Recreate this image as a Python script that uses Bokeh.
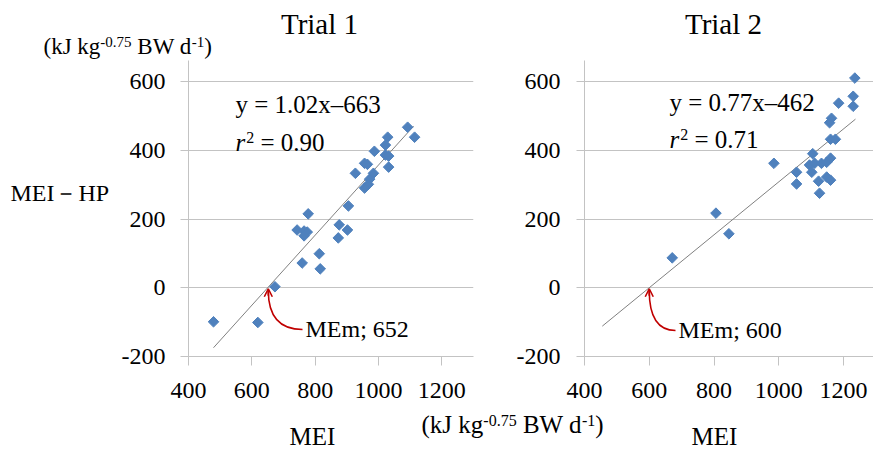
import math
import numpy as np
from bokeh.plotting import figure
from bokeh.models import Label, Range1d, FixedTicker, Arrow, OpenHead
from bokeh.layouts import row, column
from bokeh.embed import file_html
from bokeh.resources import INLINE

# ---------------- data ----------------
x_ticks = [400, 600, 800, 1000, 1200]
y_ticks = [-200, 0, 200, 400, 600]

t1_title = "Trial 1"
t1_mei = [1092, 1114, 1029, 1022, 987, 1022, 1032, 1032, 956, 965, 927, 984, 972, 968, 956,
          905, 778, 743, 765, 775, 765, 876, 902, 873, 813, 759, 816, 673, 619, 479]
t1_mei_hp = [467, 438, 438, 415, 397, 386, 383, 351, 362, 359, 333, 333, 316, 301, 290,
             238, 215, 168, 165, 162, 151, 183, 168, 145, 99, 72, 55, 3, -101, -99]
t1_slope = 1.02
t1_intercept = -663
t1_r2 = 0.90
t1_fit_x = [479, 1111]
t1_mem = 652

t2_title = "Trial 2"
t2_mei = [1235, 1230, 1230, 1185, 1163, 1157, 1160, 1175, 985, 1105, 1095, 1111, 1132, 1148,
          1160, 1102, 1055, 1055, 1123, 1148, 1160, 1126, 806, 846, 671]
t2_mei_hp = [610, 557, 528, 537, 493, 480, 432, 432, 362, 390, 357, 362, 362, 365,
             377, 336, 336, 302, 310, 322, 313, 275, 217, 157, 87]
t2_slope = 0.77
t2_intercept = -462
t2_r2 = 0.71
t2_fit_x = [455, 1237]
t2_mem = 600

x_label = "MEI"
y_label = "MEI－HP"
unit_parts = ["(kJ kg", "-0.75", " BW d", "-1", ")"]   # normal / superscript alternating

# ---------------- styling / layout ----------------
FONT = "Liberation Serif"
GRID = "#c3c3c3"
BLUE = "#4F81BD"
RED = "#c00000"
TREND = "#808080"

W, H = 873, 449
TOP_H = 60            # top strip (titles, unit)
MID_H = 352           # plot row
BOT_H = H - TOP_H - MID_H
LEFT_W = 112          # strip with y label
BOUND = 500           # split between the two panels
FRAME_TOP, FRAME_BOTTOM = TOP_H, 356
Y0 = -200
Y1 = Y0 + (FRAME_BOTTOM - FRAME_TOP) * 800 / 275.0

ADV = {' ': 250, '(': 333, ')': 333, 'k': 500, 'J': 389, 'g': 500, 'B': 667, 'W': 944,
       'd': 500, '-': 333, '0': 500, '.': 250, '7': 500, '5': 500, '1': 500, '=': 564,
       '2': 500, '9': 500, 'r': 389}


def tw(s, size):
    return sum(ADV.get(c, 500) for c in s) / 1000.0 * size


class Geo:
    """maps picture pixels to the data coordinates of one figure"""
    def __init__(self, fl, fr, ft, fb, x0, x1, y0, y1):
        self.fl, self.fr, self.ft, self.fb = fl, fr, ft, fb
        self.x0, self.x1, self.y0, self.y1 = x0, x1, y0, y1

    def dx(self, px):
        return self.x0 + (px - self.fl) * (self.x1 - self.x0) / (self.fr - self.fl)

    def dy(self, py):
        return self.y0 + (self.fb - py) * (self.y1 - self.y0) / (self.fb - self.ft)

    def px(self, x):
        return self.fl + (x - self.x0) * (self.fr - self.fl) / (self.x1 - self.x0)

    def py(self, y):
        return self.fb - (y - self.y0) * (self.fb - self.ft) / (self.y1 - self.y0)


def strip(left, top, width, height):
    s = figure(width=width, height=height, x_range=Range1d(0, width),
               y_range=Range1d(height, 0), output_backend="svg", toolbar_location=None,
               min_border=0, x_axis_location=None, y_axis_location=None, title=None)
    s.outline_line_color = None
    s.background_fill_color = "white"
    s.border_fill_color = "white"
    s.xgrid.visible = False
    s.ygrid.visible = False
    return s, Geo(left, left + width, top, top + height, 0, width, height, 0)


def make_panel(left, width, fl, fr, x1, label_standoff):
    geo = Geo(fl, fr, FRAME_TOP, FRAME_BOTTOM, 400, x1, Y0, Y1)
    p = figure(width=width, height=MID_H,
               x_range=Range1d(400, x1), y_range=Range1d(Y0, Y1),
               output_backend="svg", toolbar_location=None, title=None,
               min_border_left=fl - left, min_border_right=left + width - fr,
               min_border_top=0, min_border_bottom=TOP_H + MID_H - FRAME_BOTTOM)
    p.outline_line_color = None
    p.background_fill_color = "white"
    p.border_fill_color = "white"
    p.xaxis.ticker = FixedTicker(ticks=x_ticks)
    p.yaxis.ticker = FixedTicker(ticks=y_ticks)
    p.yaxis.major_label_overrides = {t: str(t) for t in y_ticks}
    p.xgrid.grid_line_color = None
    p.ygrid.grid_line_color = GRID
    for ax in (p.xaxis[0], p.yaxis[0]):
        ax.axis_line_color = GRID
        ax.major_tick_line_color = GRID
        ax.minor_tick_line_color = None
        ax.major_tick_in = 0
        ax.major_label_text_font = FONT
        ax.major_label_text_font_size = "24px"
        ax.major_label_text_color = "black"
    p.xaxis.major_tick_out = 9
    p.yaxis.major_tick_out = 8
    p.xaxis.major_label_standoff = 17
    p.yaxis.major_label_standoff = label_standoff
    return p, geo


def add_text(p, geo, px, baseline, text, size, align="left", style="normal", color="black"):
    """px, baseline: picture pixels of the text start (or centre) and its baseline"""
    stripped = text.lstrip(" ")
    if align == "left":
        px += tw(text[:len(text) - len(stripped)], size)
    cy = baseline - 0.34 * size      # centre of the cap height
    p.add_layout(Label(x=geo.dx(px), y=geo.dy(cy), text=stripped,
                       text_font=FONT, text_font_size=f"{size}px",
                       text_font_style=style, text_color=color,
                       text_align=align, text_baseline="middle"))


def add_unit(p, geo, x, baseline, base, sup, raise_):
    for i, t in enumerate(unit_parts):
        s = sup if i % 2 else base
        add_text(p, geo, x, baseline - (raise_ if i % 2 else 0), t, s)
        x += tw(t, s)


def draw_panel(p, geo, mei, hp, slope, intercept, r2, fit_x, mem,
               eq_x, eq_y, r2_y, mem_label_x, mem_label_y):
    fx = np.array(fit_x, dtype=float)
    p.line(fx, slope * fx + intercept, line_color=TREND, line_width=1)
    p.scatter(mei, hp, marker="square", angle=math.pi / 4, size=7.5,
              fill_color=BLUE, line_color=BLUE)
    add_text(p, geo, eq_x, eq_y, f"y = {slope:.2f}x–{abs(intercept)}", 25)
    add_text(p, geo, eq_x, r2_y, "r", 25, style="italic")
    x2 = eq_x + tw("r", 25) + 1
    add_text(p, geo, x2, r2_y - 8, "2", 16)
    add_text(p, geo, x2 + tw("2", 16), r2_y, f" = {r2:.2f}", 25)
    add_text(p, geo, mem_label_x, mem_label_y, f"MEm; {mem}", 24)
    tip_px, tip_py = geo.px(mem), geo.py(0)
    sx, sy = mem_label_x - 3, mem_label_y - 8
    p.quadratic(x0=[geo.dx(sx)], y0=[geo.dy(sy)],
                x1=[geo.dx(tip_px)], y1=[geo.dy(tip_py + 3)],
                cx=[geo.dx(tip_px)], cy=[geo.dy(sy)],
                line_color=RED, line_width=1.6)
    p.add_layout(Arrow(end=OpenHead(size=8, line_color=RED, line_width=1.6),
                       x_start=geo.dx(tip_px), y_start=geo.dy(tip_py + 8),
                       x_end=geo.dx(tip_px), y_end=geo.dy(tip_py + 1),
                       line_color=RED, line_width=1.6))


# ---------------- build ----------------
top, gtop = strip(0, 0, W, TOP_H)
bot, gbot = strip(0, TOP_H + MID_H, W, BOT_H)
lft, glft = strip(0, TOP_H, LEFT_W, MID_H)

p1, geo1 = make_panel(LEFT_W, BOUND - LEFT_W, 188, 473, 1300, 15)
p2, geo2 = make_panel(BOUND, W - BOUND, 584, W, 400 + (W - 584) / 0.32375, 16)

draw_panel(p1, geo1, t1_mei, t1_mei_hp, t1_slope, t1_intercept, t1_r2, t1_fit_x, t1_mem,
           235, 112, 150, 305, 337)
draw_panel(p2, geo2, t2_mei, t2_mei_hp, t2_slope, t2_intercept, t2_r2, t2_fit_x, t2_mem,
           669, 110, 147, 678, 338)

# titles and units on top
add_text(top, gtop, 319, 33, t1_title, 29, align="center")
add_text(top, gtop, 723, 33, t2_title, 29, align="center")
add_unit(top, gtop, 43, 54, 23, 15, 7)

# y label (the full-width dash comes from a fallback font, which moves the text box)
add_text(lft, glft, 10, 226, y_label, 24)

# bottom: unit and x labels
add_unit(bot, gbot, 421, 432, 25, 16, 7)
add_text(bot, gbot, 312, 444, x_label, 25, align="center")
add_text(bot, gbot, 714, 444, x_label, 25, align="center")

layout = column(top, row(lft, p1, p2), bot)
open("out.html", "w").write(file_html(layout, INLINE))
